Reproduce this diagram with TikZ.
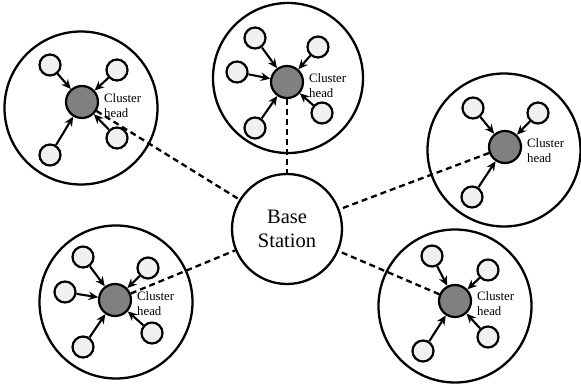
\documentclass[tikz,border=0pt]{standalone}
\usepackage{fontspec}
\setmainfont{Liberation Serif}
\usetikzlibrary{arrows.meta}
\begin{document}
\begin{tikzpicture}[x=1pt,y=-1pt,
  big/.style={circle,draw,line width=2.3pt,minimum size=153pt,inner sep=0pt},
  member/.style={circle,draw,line width=2.2pt,fill=black!6,minimum size=21pt,inner sep=0pt},
  head/.style={circle,draw,line width=2.2pt,fill=black!50,minimum size=32pt,inner sep=0pt},
  base/.style={circle,draw,line width=2.3pt,fill=white,minimum size=110pt,inner sep=0pt,align=center,font=\fontsize{20.5}{24}\selectfont},
  lbl/.style={anchor=west,align=left,inner sep=0pt,font=\fontsize{12.8}{15}\selectfont},
  arr/.style={line width=2.1pt,-{Stealth[length=9.5pt,width=8.5pt]}},
  link/.style={line width=2.3pt,dash pattern=on 6pt off 4pt}]
\useasboundingbox (0,0) rectangle (581,385);
% cluster circles
\node[big] (c1) at (81,108) {};
\node[big,minimum size=150pt] (c2) at (288,78) {};
\node[big] (c3) at (504,150) {};
\node[big] (c4) at (116,302) {};
\node[big] (c5) at (455,306) {};
% heads
\node[head] (h1) at (82,102) {};
\node[head] (h2) at (287,82) {};
\node[head] (h3) at (505,147) {};
\node[head] (h4) at (115,300) {};
\node[head] (h5) at (455,301) {};
% base
\node[base] (bs) at (287,229) {Base\\Station};
% links
\draw[link] (h1) -- (bs);
\draw[link] (h2) -- (bs);
\draw[link] (h3) -- (bs);
\draw[link] (h4) -- (bs);
\draw[link] (h5) -- (bs);
% labels
\node[lbl] (t1) at (104,106) {Cluster\\head};
\node[lbl] (t2) at (309,86) {Cluster\\head};
\node[lbl] (t3) at (527,151) {Cluster\\head};
\node[lbl] (t4) at (137,304) {Cluster\\head};
\node[lbl] (t5) at (477,304) {Cluster\\head};
% members cluster 1
\node[member] (m11) at (50,65) {};
\node[member] (m12) at (117,70) {};
\node[member] (m13) at (117,138) {};
\node[member] (m14) at (50,155) {};
\foreach \m in {m11,m12,m13,m14} \draw[arr] (\m) -- (h1);
% cluster 2
\node[member] (m21) at (255,38) {};
\node[member] (m22) at (237,72) {};
\node[member] (m23) at (318,47) {};
\node[member] (m24) at (322,113) {};
\node[member] (m25) at (255,128) {};
\foreach \m in {m21,m22,m23,m24,m25} \draw[arr] (\m) -- (h2);
% cluster 3
\node[member] (m31) at (473,108) {};
\node[member] (m32) at (538,113) {};
\node[member] (m33) at (472,197) {};
\foreach \m in {m31,m32,m33} \draw[arr] (\m) -- (h3);
% cluster 4
\node[member] (m41) at (83,257) {};
\node[member] (m42) at (65,292) {};
\node[member] (m43) at (148,268) {};
\node[member] (m44) at (152,333) {};
\node[member] (m45) at (83,347) {};
\foreach \m in {m41,m42,m43,m44,m45} \draw[arr] (\m) -- (h4);
% cluster 5
\node[member] (m51) at (432,256) {};
\node[member] (m52) at (488,270) {};
\node[member] (m53) at (488,337) {};
\node[member] (m54) at (423,351) {};
\foreach \m in {m51,m52,m53,m54} \draw[arr] (\m) -- (h5);
\end{tikzpicture}
\end{document}
